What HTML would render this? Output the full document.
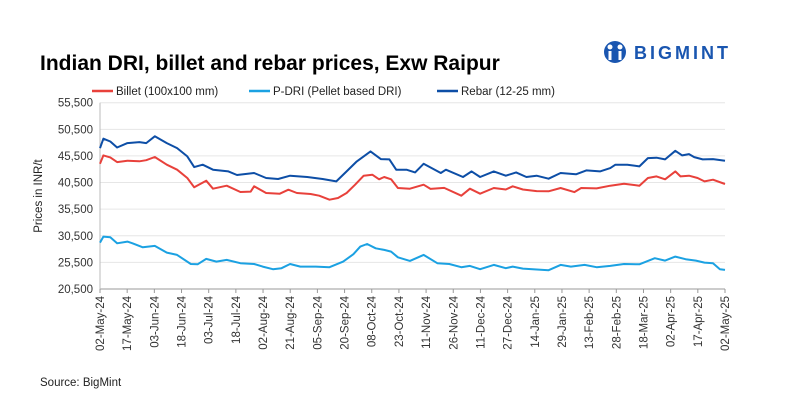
<!DOCTYPE html>
<html><head><meta charset="utf-8"><style>
body{margin:0;background:#fff;font-family:"Liberation Sans",Arial,sans-serif;}
#wrap{position:relative;width:804px;height:416px;overflow:hidden;}
</style></head><body>
<div id="wrap">
<svg id="chart" width="804" height="416" xmlns="http://www.w3.org/2000/svg" font-family="Liberation Sans, Arial, sans-serif">
<text x="40" y="70" font-size="21" font-weight="bold" fill="#000">Indian DRI, billet and rebar prices, Exw  Raipur</text>
<g>
<circle cx="615" cy="52" r="11" fill="#1a56b0"/>
<circle cx="610" cy="47" r="2.5" fill="#fff"/><circle cx="620" cy="47" r="2.5" fill="#fff"/>
<rect x="608.5" y="51" width="3" height="9" fill="#fff"/><rect x="618.5" y="51" width="3" height="9" fill="#fff"/>
<text x="634" y="59" font-size="18" font-weight="bold" fill="#1a56b0" letter-spacing="3">BIGMINT</text>
</g>
<g id="legend" font-size="11.5" fill="#222">
<g><line x1="92" y1="91" x2="113" y2="91" stroke="#e8413b" stroke-width="2.5"/><text x="116" y="95">Billet (100x100 mm)</text></g>
<g><line x1="249" y1="91" x2="270" y2="91" stroke="#1ba1e2" stroke-width="2.5"/><text x="273" y="95">P-DRI (Pellet based DRI)</text></g>
<g><line x1="437" y1="91" x2="458" y2="91" stroke="#0d4ea6" stroke-width="2.5"/><text x="461" y="95">Rebar (12-25 mm)</text></g>
</g>
<text transform="translate(42,196) rotate(-90)" text-anchor="middle" font-size="11.5" fill="#222">Prices in INR/t</text>
<g id="grid"></g><g id="yticks"></g><g id="xticks"></g><g id="series"></g>
<text x="40" y="386" font-size="11.5" fill="#222">Source: BigMint</text>
</svg>
</div>
<script>
const yTicks=[20500,25500,30500,35500,40500,45500,50500,55500];
const xLabels=["02-May-24","17-May-24","03-Jun-24","18-Jun-24","03-Jul-24","18-Jul-24","02-Aug-24","21-Aug-24","05-Sep-24","20-Sep-24","08-Oct-24","23-Oct-24","11-Nov-24","26-Nov-24","11-Dec-24","27-Dec-24","14-Jan-25","29-Jan-25","13-Feb-25","28-Feb-25","18-Mar-25","02-Apr-25","17-Apr-25","02-May-25"];
const rebarDays=[0,2,6,10,16,23,27,32,39,45,51,55,60,66,75,80,90,97,104,111,121,130,138,144,150,158,164,169,173,179,184,189,199,202,212,217,222,230,237,243,249,255,262,269,278,284,292,298,301,308,315,320,325,330,336,340,344,347,352,358,365];
const rebarVals=[46980,48730,48220,47090,47910,48090,47910,49180,47910,46980,45410,43410,43850,42910,42590,41910,42290,41350,41160,41790,41540,41160,40720,42590,44470,46350,44910,44850,42910,42910,42410,44030,42290,42910,41540,42590,41540,42590,41790,42410,41540,41790,41230,42290,42040,42790,42590,43220,43850,43850,43540,45100,45160,44850,46470,45600,45850,45280,44850,44910,44590];
const billetDays=[0,2,6,10,16,23,27,32,39,45,51,55,62,66,74,82,88,90,97,105,110,115,123,128,134,139,144,149,154,159,163,166,170,174,181,189,193,201,211,216,222,230,237,241,247,255,262,269,277,281,290,298,306,315,320,325,330,336,339,344,349,353,358,365];
const billetVals=[44030,45600,45230,44340,44600,44500,44700,45290,43850,42910,41350,39600,40850,39350,39910,38730,38800,39790,38540,38400,39160,38540,38350,38030,37280,37600,38540,40100,41790,41980,41100,41540,41100,39480,39350,40100,39300,39500,38030,39350,38400,39480,39200,39790,39200,38900,38850,39480,38700,39480,39400,39910,40290,39910,41350,41660,41100,42590,41660,41790,41350,40720,41040,40220];
const pdriDays=[0,2,6,10,16,19,25,32,39,45,53,57,62,68,74,82,90,95,101,106,111,117,126,134,142,148,152,156,161,166,170,174,181,189,197,204,211,216,222,230,237,241,247,262,269,275,283,290,298,306,315,324,330,336,342,348,353,358,362,365];
const pdriVals=[29210,30340,30210,29090,29400,29090,28340,28590,27330,26900,25200,25140,26150,25650,25960,25340,25200,24710,24220,24400,25200,24710,24710,24590,25650,27030,28460,28960,28150,27840,27530,26460,25770,26900,25340,25200,24590,24840,24220,25030,24400,24710,24340,24030,25020,24710,25020,24590,24840,25200,25140,26280,25840,26590,26090,25840,25460,25340,24220,24090];
const NS="http://www.w3.org/2000/svg";
const X0=100,X1=725,Y0=289,Y1=102.7,VMIN=20500,VMAX=55500,DMAX=365;
const xs=d=>X0+d/DMAX*(X1-X0);
const ys=v=>Y0-(v-VMIN)/(VMAX-VMIN)*(Y0-Y1);
function mk(t,a,p){const e=document.createElementNS(NS,t);for(const k in a)e.setAttribute(k,a[k]);p.appendChild(e);return e;}
const grid=document.getElementById('grid'),yt=document.getElementById('yticks'),xt=document.getElementById('xticks'),se=document.getElementById('series');
yTicks.forEach(v=>{
 if(v>VMIN){const l=mk('line',{x1:X0,x2:X1,y1:ys(v),y2:ys(v),stroke:'#e6e6e6','stroke-width':1},grid);
 
 }
 const t=mk('text',{x:93,y:ys(v)+4,'text-anchor':'end','font-size':'11.5',fill:'#333'},yt);
 t.textContent=v.toLocaleString('en-US');
 
 
});
const ax=mk('line',{x1:X0,x2:X1,y1:Y0,y2:Y0,stroke:'#999','stroke-width':1},grid);


const ay=mk('line',{x1:X0,x2:X0,y1:Y1,y2:Y0,stroke:'#bbb','stroke-width':1},grid);


const n=xLabels.length;
xLabels.forEach((s,i)=>{
 const x=X0+i/(n-1)*(X1-X0);
 mk('line',{x1:x,x2:x,y1:Y0,y2:Y0+4,stroke:'#999'},xt);
 const t=mk('text',{transform:`translate(${x+4},${Y0+7}) rotate(-90)`,'text-anchor':'end','font-size':'11.5',fill:'#333'},xt);
 t.textContent=s;
 
 
});
function line(days,vals,color,name){
 const p=mk('polyline',{points:days.map((d,i)=>xs(d).toFixed(1)+','+ys(vals[i]).toFixed(1)).join(' '),fill:'none',stroke:color,'stroke-width':2,'stroke-linejoin':'round'},se);
 
 
}
line(pdriDays,pdriVals,'#1ba1e2','pdri-line');
line(billetDays,billetVals,'#e8413b','billet-line');
line(rebarDays,rebarVals,'#0d4ea6','rebar-line');
</script>
</body></html>
